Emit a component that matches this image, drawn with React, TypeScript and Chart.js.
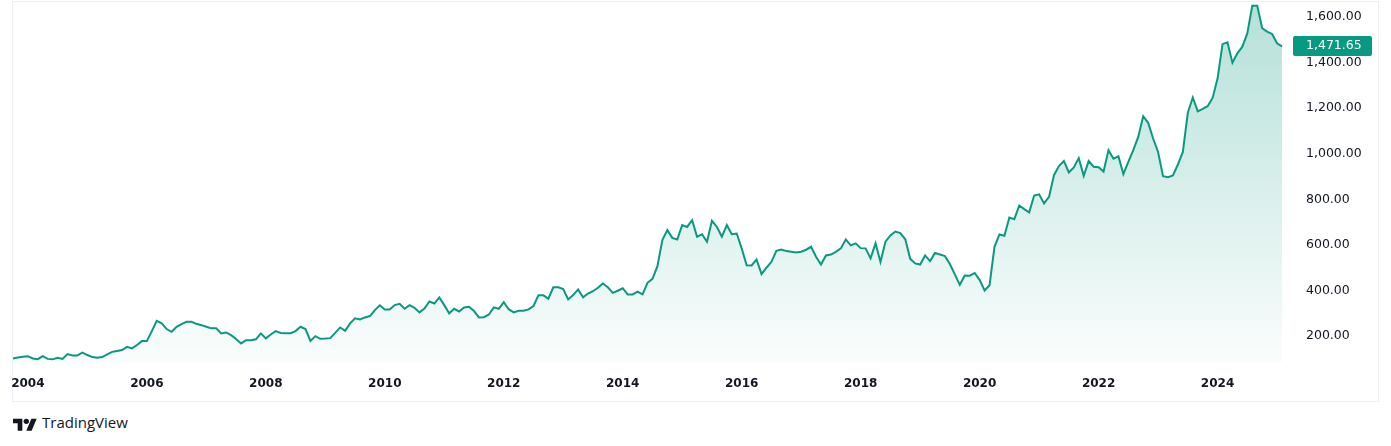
import React, { useEffect, useRef } from 'react';
import { Chart, registerables } from 'chart.js';

Chart.register(...registerables);

// Monthly closes, starting October 2003
const START_YEAR = 2003;
const START_MONTH = 10;

const closeValues: number[] = [
  102, 106, 109, 112, 102, 99, 112, 100, 98, 105,
  100, 121, 115, 115, 128, 117, 108, 105, 108, 120,
  131, 135, 139, 153, 146, 161, 178, 178, 222, 267,
  256, 231, 219, 241, 253, 263, 263, 254, 248, 241,
  234, 234, 212, 216, 204, 187, 168, 182, 182, 186,
  212, 190, 207, 222, 214, 213, 213, 222, 241, 231,
  179, 200, 188, 189, 191, 214, 238, 223, 256, 278,
  273, 282, 288, 314, 335, 317, 317, 336, 342, 320,
  336, 324, 304, 321, 352, 343, 370, 336, 300, 320,
  308, 326, 329, 310, 282, 283, 295, 326, 320, 349,
  318, 304, 311, 311, 317, 332, 379, 379, 364, 414,
  414, 406, 361, 380, 405, 370, 387, 397, 412, 431,
  414, 390, 399, 410, 383, 383, 395, 383, 434, 451,
  507, 621, 665, 631, 624, 687, 679, 709, 636, 647,
  614, 706, 679, 636, 687, 647, 650, 585, 511, 510,
  536, 472, 500, 526, 574, 580, 573, 570, 567, 570,
  579, 592, 548, 514, 554, 558, 570, 585, 624, 598,
  607, 586, 585, 541, 607, 525, 614, 642, 659, 652,
  625, 539, 519, 514, 554, 529, 565, 558, 551, 516,
  471, 425, 466, 465, 477, 447, 400, 423, 592, 646,
  640, 720, 713, 773, 757, 743, 817, 822, 782, 811,
  906, 946, 968, 918, 940, 981, 903, 968, 943, 941,
  922, 1016, 978, 989, 911, 965, 1016, 1074, 1165, 1136,
  1067, 1008, 902, 897, 905, 953, 1008, 1180, 1247, 1186,
  1197, 1209, 1245, 1330, 1481, 1489, 1400, 1441, 1470, 1528,
  1650, 1650, 1551, 1536, 1526, 1485, 1471.65,
];

const xTickYears: string[] = ['2004', '2006', '2008', '2010', '2012', '2014', '2016', '2018', '2020', '2022', '2024'];
const yTickValues: number[] = [200, 400, 600, 800, 1000, 1200, 1400, 1600];
const Y_MIN = 82;
const Y_MAX = 1666;

const LINE_COLOR = '#089981';
const TEXT_COLOR = '#131722';

const monthLabels: string[] = closeValues.map((_, i) => {
  const m = START_MONTH - 1 + i;
  const y = START_YEAR + Math.floor(m / 12);
  const mm = (m % 12) + 1;
  return `${y}-${String(mm).padStart(2, '0')}`;
});

const fmt = (v: number) =>
  v.toLocaleString('en-US', { minimumFractionDigits: 2, maximumFractionDigits: 2 });

const lastPricePlugin = {
  id: 'lastPrice',
  afterDraw(chart: any) {
    const ds = chart.data.datasets[0].data as number[];
    const last = ds[ds.length - 1];
    const y = chart.scales.y.getPixelForValue(last);
    const ctx = chart.ctx as CanvasRenderingContext2D;
    const right = chart.chartArea.right;
    ctx.save();
    ctx.fillStyle = LINE_COLOR;
    const bx = right + 11;
    const by = Math.round(y - 10);
    ctx.beginPath();
    if ((ctx as any).roundRect) (ctx as any).roundRect(bx, by, 79, 20, 2);
    else ctx.rect(bx, by, 79, 20);
    ctx.fill();
    ctx.fillStyle = '#ffffff';
    ctx.font = '12.5px "DejaVu Sans"';
    ctx.textAlign = 'left';
    ctx.textBaseline = 'middle';
    ctx.fillText(fmt(last), right + 24, by + 10);
    ctx.restore();
  },
};

function PriceChart() {
  const canvasRef = useRef<HTMLCanvasElement | null>(null);

  useEffect(() => {
    if (!canvasRef.current) return;
    const chart = new Chart(canvasRef.current, {
      type: 'line',
      data: {
        labels: monthLabels,
        datasets: [
          {
            data: closeValues,
            borderColor: LINE_COLOR,
            borderWidth: 2,
            pointRadius: 0,
            tension: 0,
            fill: 'start',
            backgroundColor: (c: any) => {
              const { chart: ch } = c;
              const area = ch.chartArea;
              if (!area) return 'rgba(8,153,129,0.15)';
              const g = ch.ctx.createLinearGradient(0, area.top, 0, area.bottom);
              g.addColorStop(0, 'rgba(8,153,129,0.30)');
              g.addColorStop(1, 'rgba(8,153,129,0.02)');
              return g;
            },
          },
        ],
      },
      options: {
        animation: false,
        responsive: true,
        maintainAspectRatio: false,
        layout: { padding: { left: 13, right: 0, top: 0, bottom: 0 } },
        plugins: {
          legend: { display: false },
          tooltip: { enabled: false },
        },
        scales: {
          x: {
            type: 'category',
            offset: false,
            grid: { display: false, drawTicks: false },
            border: { display: false },
            afterFit: (s: any) => {
              s.height = 38;
              s.paddingLeft = 0;
              s.paddingRight = 0;
            },
            ticks: {
              autoSkip: false,
              maxRotation: 0,
              minRotation: 0,
              padding: 14,
              color: TEXT_COLOR,
              font: { family: '"DejaVu Sans"', size: 12, weight: 'bold' },
              callback: function (this: any, value: any) {
                const lab: string = this.getLabelForValue(value);
                const [yy, mm] = lab.split('-');
                return mm === '01' && xTickYears.includes(yy) ? yy : '';
              },
            },
          },
          y: {
            position: 'right',
            min: Y_MIN,
            max: Y_MAX,
            grid: { display: false, drawTicks: false },
            border: { display: false },
            afterFit: (s: any) => {
              s.width = 96;
              s.paddingTop = 0;
              s.paddingBottom = 0;
            },
            afterBuildTicks: (s: any) => {
              s.ticks = yTickValues.map((v) => ({ value: v }));
            },
            ticks: {
              padding: 24,
              color: TEXT_COLOR,
              font: { family: '"DejaVu Sans"', size: 12.5 },
              callback: (v: any) => fmt(Number(v)),
            },
          },
        },
      },
      plugins: [lastPricePlugin],
    } as any);
    return () => chart.destroy();
  }, []);

  return <canvas ref={canvasRef} />;
}

export default function App() {
  return (
    <div
      style={{
        position: 'absolute',
        left: 0,
        top: 0,
        width: 1391,
        height: 446,
        background: '#ffffff',
        overflow: 'hidden',
      }}
    >
      <div
        style={{
          position: 'absolute',
          left: 12,
          top: 1,
          width: 1367,
          height: 401,
          border: '1px solid #eef0f3',
          boxSizing: 'border-box',
        }}
      />
      <div style={{ position: 'absolute', left: 0, top: 2, width: 1378, height: 399 }}>
        <PriceChart />
      </div>
      <svg
        width={24}
        height={18.67}
        viewBox="0 0 36 28"
        style={{ position: 'absolute', left: 13, top: 416.3 }}
      >
        <path d="M14 22H7V11H0V4h14v18zM28 22h-8l7.5-18h8L28 22z" fill={TEXT_COLOR} />
        <circle cx="20" cy="8" r="4" fill={TEXT_COLOR} />
      </svg>
      <div
        style={{
          position: 'absolute',
          left: 42,
          top: 415,
          fontFamily: '"Open Sans", sans-serif',
          fontSize: 15,
          lineHeight: '15px',
          color: TEXT_COLOR,
          whiteSpace: 'nowrap',
        }}
      >
        TradingView
      </div>
    </div>
  );
}
